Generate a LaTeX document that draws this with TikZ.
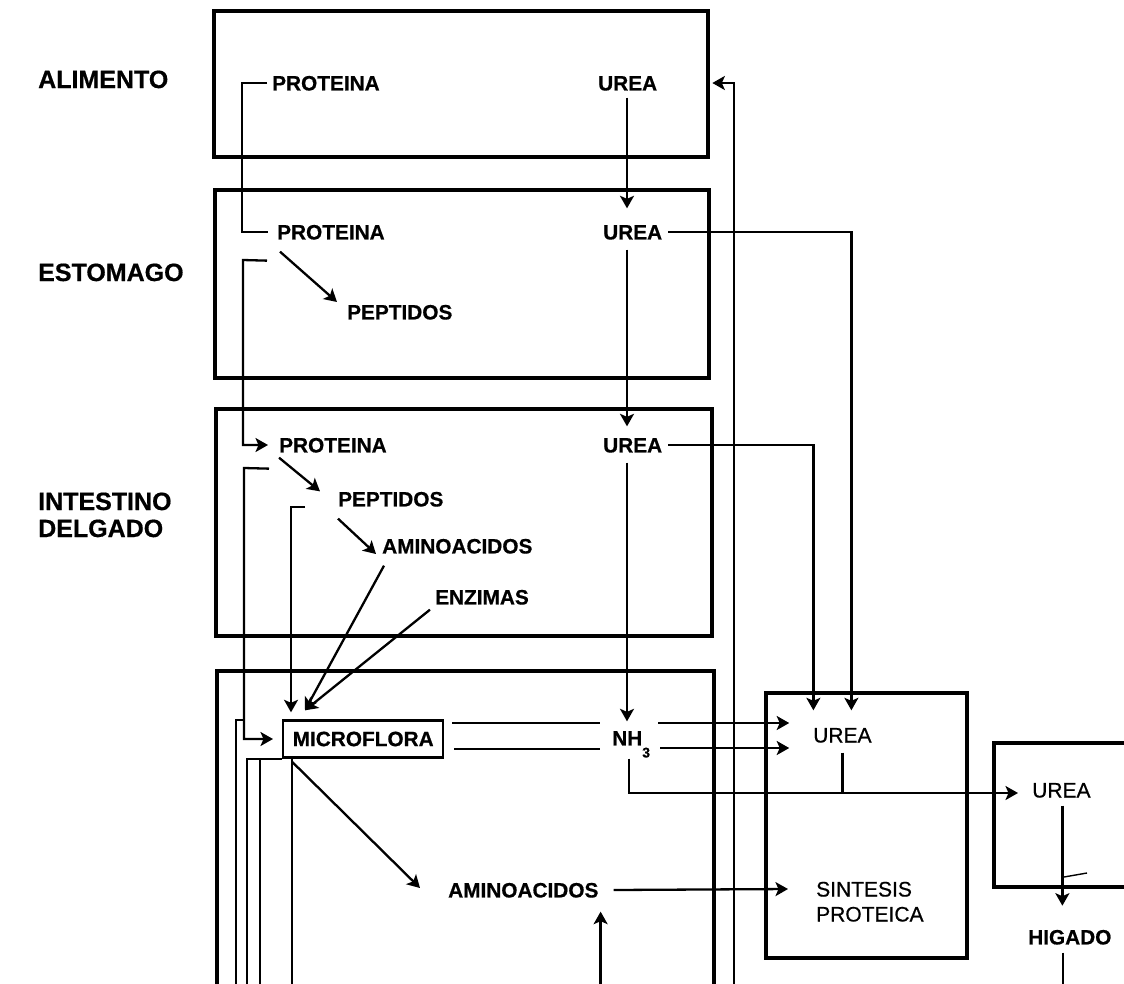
\documentclass[tikz,border=0pt]{standalone}
\usepackage{fontspec}
\setmainfont{Liberation Sans}
\newfontfamily\hv{Liberation Sans}[FakeBold=0.6]
\usetikzlibrary{arrows.meta,calc}
\begin{document}
\begin{tikzpicture}[x=1pt,y=-1pt,
  box/.style={line width=4.8pt},
  ln/.style={line width=2.3pt},
  arr/.style={ln,-{Stealth[length=12.5pt,width=14pt,inset=3pt]}},
  lbl/.style={font=\fontsize{25}{28}\selectfont\hv\bfseries, anchor=west, inner sep=0pt, text height=18pt, text depth=0pt},
  txt/.style={font=\fontsize{20.8}{24}\selectfont\hv\bfseries, anchor=west, inner sep=0pt, text height=14.9pt, text depth=0pt},
  rtxt/.style={font=\fontsize{21}{25}\selectfont\hv, anchor=west, inner sep=0pt, text height=15pt, text depth=0pt},
]
\useasboundingbox (0,0) rectangle (1124,983);
\fill[white] (0,0) rectangle (1124,983);
\begin{scope}
\clip (0,0) rectangle (1124,983);
% compartments
\draw[box] (214,11) rectangle (708,157);
\draw[box] (215,190) rectangle (709,378);
\draw[box] (216,409) rectangle (712,636);
\draw[box] (217,671) rectangle (714,1000);
\draw[box] (766,693) rectangle (967,958);
\draw[box] (994,743) rectangle (1140,887);

% side labels
\node[lbl] (lAli) at (38,79) {ALIMENTO};
\node[lbl] (lEst) at (38,272) {ESTOMAGO};
\node[lbl] (lInt1) at (38,501) {INTESTINO};
\node[lbl] (lInt2) at (38,528) {DELGADO};

% alimento
\node[txt] (p1) at (272,83) {PROTEINA};
\node[txt] (u1) at (598,83) {UREA};
% estomago
\node[txt] (p2) at (277,232) {PROTEINA};
\node[txt] (u2) at (603,232) {UREA};
\node[txt] (pe2) at (347,312) {PEPTIDOS};
% intestino delgado
\node[txt] (p3) at (279,445) {PROTEINA};
\node[txt] (u3) at (603,445) {UREA};
\node[txt] (pe3) at (338,499) {PEPTIDOS};
\node[txt] (am3) at (382,546) {AMINOACIDOS};
\node[txt] (en3) at (435,597) {ENZIMAS};
% lower compartment
\node[draw, line width=2.4pt, minimum width=160pt, minimum height=37pt, inner sep=0pt,
      anchor=west, font=\fontsize{20.8}{24}\selectfont\hv\bfseries] (mf) at (282,739) {MICROFLORA};
\node[txt] (nh) at (612,738) {NH\raisebox{-12pt}{\fontsize{14}{16}\selectfont\hv\bfseries 3}};
\node[txt] (am4) at (448,890) {AMINOACIDOS};
% sintesis box
\node[rtxt] (u5) at (813,735) {UREA};
\node[rtxt] (s5a) at (816,889) {SINTESIS};
\node[rtxt] (s5b) at (816,914) {PROTEICA};
% higado box
\node[rtxt] (u6) at (1032,790) {UREA};
\node[txt] (hi) at (1028,937) {HIGADO};

% connectors
\coordinate (ux) at (627,0);
\draw[ln] ($(p1.west)+(-5,0)$) -- (242,83) |- ($(p2.west)+(-9,0)$);
\draw[arr] ($(ux |- u1.south)+(0,7)$) -- ($(ux |- u2.north)+(0,-16)$);
\draw[arr] ($(u2.east)+(6,0)$) -| ($(u5.north)+(9,-17)$);
\draw[arr] ($(p2.south west)+(3,12)$) -- ($(pe2.west)+(-10,-10)$);
\draw[arr] ($(p2.south west)+(-10,21)$) -- (243,260) |- ($(p3.west)+(-11,0)$);
\draw[arr] ($(ux |- u2.south)+(0,10)$) -- ($(ux |- u3.north)+(0,-11)$);
\draw[arr] ($(u3.east)+(6,0)$) -| ($(u5.north)+(-29,-17)$);
\draw[arr] ($(p3.south west)+(0,5)$) -- ($(pe3.north west)+(-18,0)$);
\draw[arr] ($(p3.south west)+(-10,16)$) -- (244,468) |- ($(mf.west)+(-9,0)$);
\draw[ln] (244,720) -- (236,720) -- (236,1000);
\draw[arr] ($(pe3.south west)+(-33,0)$) -| ($(mf.north west)+(9,-7)$);
\draw[arr] ($(pe3.south west)+(0,12)$) -- ($(am3.west)+(-6,8)$);
\draw[arr] ($(am3.south west)+(2,12)$) -- ($(mf.north west)+(23,-9)$);
\draw[arr] ($(en3.south west)+(-5,5)$) -- ($(mf.north west)+(23,-9)$);
\draw[arr] ($(ux |- u3.south)+(0,10)$) -- ($(ux |- nh.north)+(0,-9)$);
\draw[ln] ($(mf.east)+(8,-16)$) -- ++(148,0);
\draw[ln] ($(mf.east)+(10,10)$) -- ++(146,0);
\draw[arr] ($(nh.east)+(8,-15)$) -- ++(131,0);
\draw[arr] ($(nh.east)+(10,10)$) -- ++(129,0);
\draw[arr] ($(ux |- nh.south)+(2,13)$) |- ($(u6.west)+(-14,3)$);
\draw[ln] ($(u5.south)+(0,10)$) -- ++(0,41);
\draw[ln] ($(mf.south west)+(10,0)$) -- ++(0,260);
\draw[ln] (mf.south west) -| ($(mf.south west)+(-35,260)$);
\draw[ln] ($(mf.south west)+(-22,0)$) -- ++(0,260);
\draw[arr] ($(mf.south west)+(10,3)$) -- ($(am4.west)+(-28,-2)$);
\draw[arr] ($(am4.east)+(15,0)$) -- ($(s5a.west)+(-28,0)$);
\draw[arr] ($(am4.south east)+(2,100)$) -- ($(am4.south east)+(2,14)$);
\draw[arr] (734,1000) |- ($(u1.east)+(55,0)$);
\draw[arr] ($(u6.south)+(1,8)$) -- ($(u6.south)+(1,108)$);
\draw[ln] ($(hi.south)+(-7,8)$) -- ++(0,50);
\draw[line width=1.4pt] (1064,877) -- (1087,873);
\end{scope}
\end{tikzpicture}
\end{document}
